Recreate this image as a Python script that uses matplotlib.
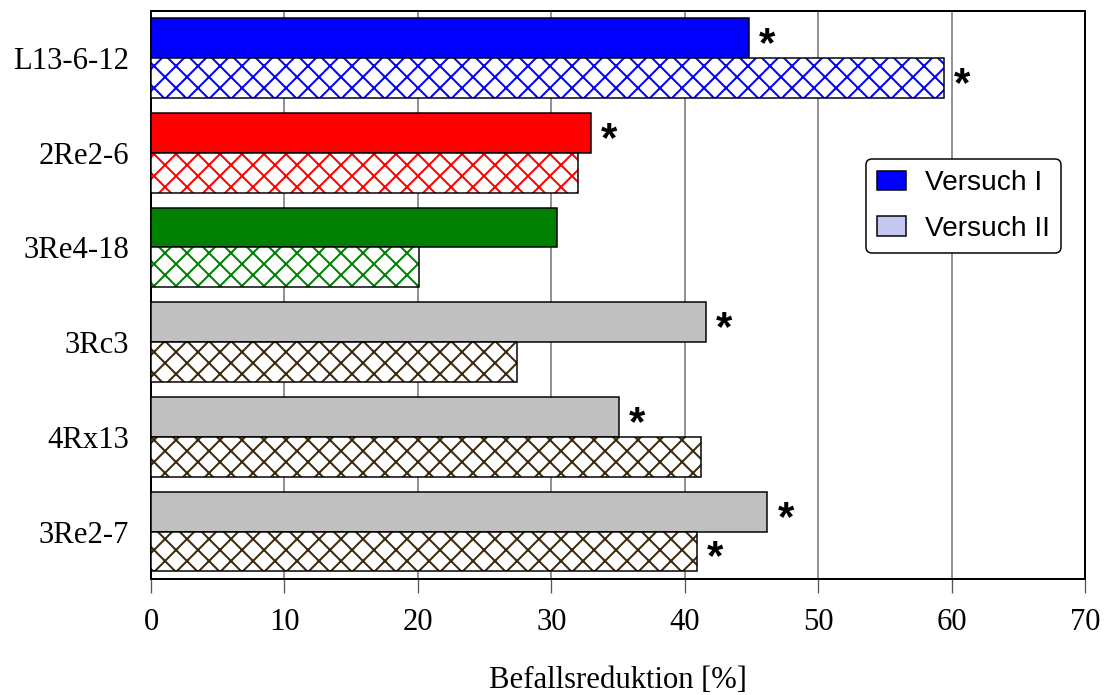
import numpy as np
import matplotlib
matplotlib.use('Agg')
import matplotlib.pyplot as plt
from matplotlib.patches import Patch

# Data (Befallsreduktion in %)
lines = ['L13-6-12', '2Re2-6', '3Re4-18', '3Rc3', '4Rx13', '3Re2-7']
versuch_1 = [44.8, 33.0, 30.4, 41.6, 35.1, 46.2]
versuch_2 = [59.4, 32.0, 20.1, 27.4, 41.2, 40.9]
signif_1 = [True, True, False, True, True, True]
signif_2 = [True, False, False, False, False, True]
fill_colors = ['#0000ff', '#ff0000', '#008000', '#c0c0c0', '#c0c0c0', '#c0c0c0']
hatch_colors = ['#0000ff', '#ff0000', '#008000', '#3d2a0c', '#3d2a0c', '#3d2a0c']
x_ticks = [0, 10, 20, 30, 40, 50, 60, 70]

# dpi chosen so the crosshatch spacing matches the original
DPI = 132


def px(v):
    # pixel size -> points
    return v * 72.0 / DPI


plt.rcParams['hatch.linewidth'] = px(2.0)
serif = ['Liberation Serif', 'DejaVu Serif']
sans = ['Liberation Sans', 'DejaVu Sans']

fig = plt.figure(figsize=(1106 / DPI, 695 / DPI), dpi=DPI)
ax = fig.add_axes([151 / 1106, 1 - 579 / 695, 934 / 1106, (579 - 10.7) / 695])

y = np.arange(len(lines))
h = 0.42

ax.barh(y - h / 2, versuch_1, height=h, color=fill_colors,
        edgecolor='black', linewidth=px(1.5), zorder=3)
# hatched bars: hatch layer first, then black outline on top
ax.barh(y + h / 2, versuch_2, height=h, color='white', hatch='xx',
        edgecolor=hatch_colors, linewidth=0, zorder=3)
ax.barh(y + h / 2, versuch_2, height=h, fill=False,
        edgecolor='black', linewidth=px(1.5), zorder=4)

# significance marks
for i in range(len(lines)):
    for val, sig, off in [(versuch_1[i], signif_1[i], -h / 2), (versuch_2[i], signif_2[i], h / 2)]:
        if sig:
            ax.annotate('*', xy=(val, y[i] + off), xytext=(px(10), px(-7)),
                        textcoords='offset points', ha='left', va='center',
                        fontsize=px(42), fontweight='bold',
                        family=sans, zorder=5)

ax.set_xlim(0, 70)
ax.set_ylim(len(lines) - 0.5, -0.5)
ax.set_xticks(x_ticks)
ax.set_xticklabels([str(t) for t in x_ticks], family=serif, fontsize=px(30.6))
ax.set_yticks(y)
ax.set_yticklabels(lines, family=serif, fontsize=px(30.6))
ax.tick_params(axis='x', direction='out', length=px(14), width=px(1.3),
               color='#555555', pad=px(15))
ax.tick_params(axis='y', length=0, pad=px(22))

ax.xaxis.grid(True, color='#707070', linewidth=px(1.5), zorder=0)
ax.set_axisbelow(True)
for s in ax.spines.values():
    s.set_linewidth(px(2))
    s.set_color('black')

ax.set_xlabel('Befallsreduktion [%]', family=serif, fontsize=px(30.6), labelpad=px(29))

handles = [Patch(facecolor='#0000ff', edgecolor='black', linewidth=px(1.5)),
           Patch(facecolor='#c6c6f2', edgecolor='black', linewidth=px(1.5))]
leg = ax.legend(handles, ['Versuch I', 'Versuch II'], loc='upper left',
                bbox_to_anchor=((866 - 151) / 934, 1 - (159 - 10.7) / 568.3),
                borderaxespad=0, prop={'family': sans, 'size': px(28)},
                handlelength=1.04, handleheight=0.68, handletextpad=0.66,
                labelspacing=0.7, borderpad=0.4, fancybox=True, framealpha=1,
                edgecolor='black')
leg.get_frame().set_linewidth(px(1.5))
leg.set_zorder(6)

fig.savefig('out.png', dpi=DPI)
